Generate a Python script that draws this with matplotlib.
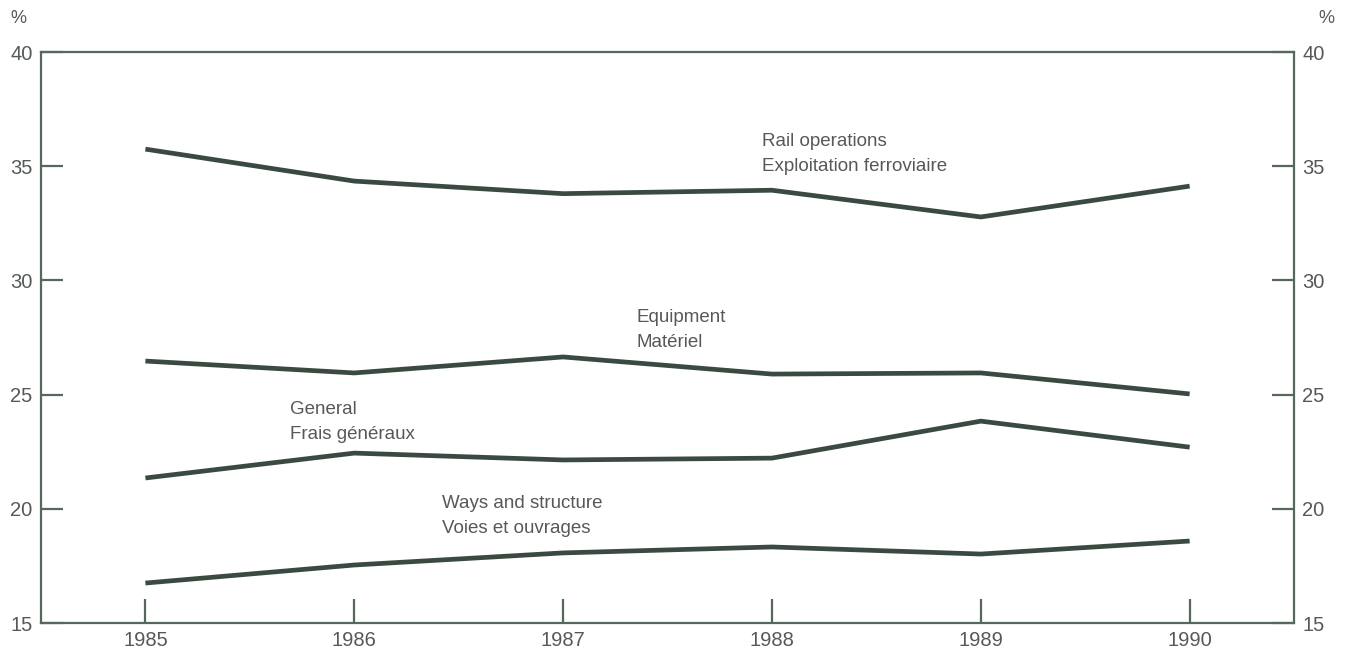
import matplotlib.pyplot as plt

plt.rcParams['font.family'] = ['Liberation Sans', 'DejaVu Sans']

years = [1985, 1986, 1987, 1988, 1989, 1990]
rail_ops = [35.75, 34.35, 33.8, 33.95, 32.78, 34.13]
equipment = [26.47, 25.95, 26.65, 25.9, 25.95, 25.03]
general = [21.35, 22.44, 22.14, 22.22, 23.84, 22.7]
ways = [16.75, 17.54, 18.07, 18.33, 18.02, 18.59]

line_col = '#3b4a40'
axis_col = '#56685b'
text_col = '#555a56'

fig = plt.figure(figsize=(13.48, 6.59), dpi=100)
ax = fig.add_axes([0.0304, 0.0546, 0.9296, 0.8664])

for series in [rail_ops, equipment, general, ways]:
    ax.plot(years, series, color=line_col, linewidth=3.4, solid_capstyle='butt')

# series labels
lbl = dict(fontsize=13.5, color=text_col, va='center', ha='left', linespacing=1.6)
ax.text(1987.95, 35.53, 'Rail operations\nExploitation ferroviaire', **lbl)
ax.text(1987.35, 27.83, 'Equipment\nMatériel', **lbl)
ax.text(1985.69, 23.8, 'General\nFrais généraux', **lbl)
ax.text(1986.42, 19.68, 'Ways and structure\nVoies et ouvrages', **lbl)

ax.set_xlim(1984.5, 1990.5)
ax.set_ylim(15, 40)
ax.set_xticks(years)
ax.set_yticks([15, 20, 25, 30, 35, 40])

for s in ax.spines.values():
    s.set_color(axis_col)
    s.set_linewidth(1.6)

ax.tick_params(axis='y', direction='in', length=16, width=1.6, color=axis_col,
               labelcolor=text_col, labelsize=14.5, pad=6, left=True, right=True,
               labelleft=True, labelright=True)
ax.tick_params(axis='x', direction='in', length=17, width=1.6, color=axis_col,
               labelcolor=text_col, labelsize=14.5, pad=6)

fig.text(0.008, 0.972, '%', fontsize=13, color=text_col, va='center', ha='left')
fig.text(0.978, 0.972, '%', fontsize=13, color=text_col, va='center', ha='left')

fig.savefig('out.png', dpi=100, facecolor='white')
